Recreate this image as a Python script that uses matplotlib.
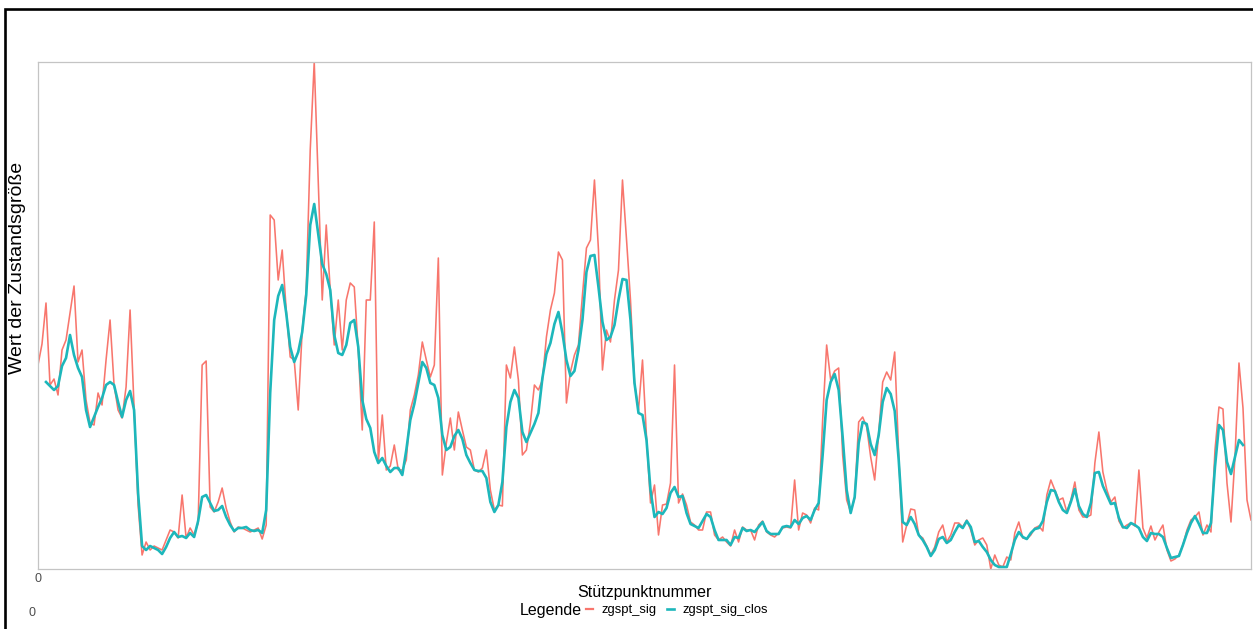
import numpy as np
import matplotlib
matplotlib.use("Agg")
import matplotlib.pyplot as plt
from matplotlib.patches import Rectangle
from matplotlib.lines import Line2D

plt.rcParams['font.family'] = ['Liberation Sans', 'DejaVu Sans']

# ---------- DATA --------------
nan = np.nan

zgspt_sig = [
    40.8, 45.0, 53.2, 36.8, 38.0, 34.8, 43.8, 45.8, 51.2, 56.6,
    41.4, 43.8, 33.8, 29.2, 28.8, 35.2, 32.8, 41.8, 49.8, 36.8,
    31.8, 30.2, 36.4, 51.8, 32.4, 12.8, 2.8, 5.4, 3.8, 4.6,
    4.2, 3.8, 5.8, 7.8, 7.4, 6.2, 14.8, 6.2, 8.2, 6.8,
    9.2, 40.8, 41.6, 12.4, 11.4, 13.4, 16.2, 12.2, 9.4, 7.4,
    8.4, 8.2, 7.8, 7.4, 7.8, 8.2, 6.0, 8.8, 70.8, 69.8,
    57.8, 63.8, 51.8, 42.4, 41.8, 31.8, 47.8, 55.8, 83.8, 101.4,
    77.8, 53.8, 68.8, 55.8, 44.8, 53.8, 43.8, 53.8, 57.2, 56.4,
    43.8, 27.8, 53.8, 53.8, 69.4, 21.4, 30.8, 19.8, 20.6, 24.8,
    19.8, 19.8, 21.8, 31.8, 34.8, 38.8, 45.4, 41.8, 38.4, 40.8,
    62.2, 18.8, 25.2, 30.2, 23.8, 31.4, 27.8, 24.4, 23.8, 19.8,
    19.4, 20.2, 23.8, 15.8, 11.8, 12.8, 12.6, 40.8, 38.2, 44.4,
    37.8, 22.8, 23.8, 29.2, 36.8, 35.8, 37.8, 46.4, 51.8, 55.2,
    63.4, 61.8, 33.2, 39.4, 42.8, 44.8, 54.8, 64.2, 65.8, 77.8,
    63.8, 39.8, 47.8, 45.4, 53.8, 59.8, 77.8, 66.0, 53.8, 37.2,
    31.8, 41.8, 26.4, 13.2, 16.8, 6.8, 12.8, 13.0, 17.2, 40.8,
    13.2, 15.0, 12.8, 9.4, 8.8, 7.8, 7.8, 11.4, 11.4, 6.8,
    5.8, 6.4, 5.4, 4.6, 7.8, 5.4, 8.4, 7.8, 7.8, 5.8,
    8.8, 9.6, 7.4, 6.8, 6.4, 7.2, 8.2, 8.4, 8.2, 17.8,
    7.8, 11.2, 10.8, 9.2, 12.2, 11.8, 29.8, 44.8, 37.8, 39.6,
    40.2, 22.8, 13.8, 11.4, 14.2, 29.4, 30.4, 28.4, 22.4, 17.8,
    27.2, 37.4, 39.4, 37.8, 43.4, 22.8, 5.4, 8.8, 12.0, 11.8,
    6.8, 6.2, 4.6, 2.8, 4.4, 7.4, 8.8, 5.4, 6.8, 9.2,
    9.2, 8.4, 9.8, 7.8, 4.8, 5.8, 6.2, 4.8, 0.0, 2.8,
    0.8, 0.4, 2.4, 1.8, 7.2, 9.4, 6.2, 6.0, 6.8, 8.2,
    8.6, 7.6, 14.8, 17.8, 15.8, 13.8, 14.2, 11.4, 13.8, 17.4,
    11.8, 10.4, 10.4, 10.8, 21.2, 27.4, 19.4, 15.8, 13.4, 14.4,
    9.6, 8.2, 8.8, 9.2, 8.6, 19.8, 8.2, 6.2, 8.6, 5.8,
    7.4, 8.8, 3.8, 1.6, 2.0, 2.8, 4.8, 7.8, 9.8, 10.4,
    11.4, 6.8, 8.8, 7.4, 23.8, 32.4, 32.0, 17.2, 9.4, 22.4,
    41.2, 32.2, 13.8, 9.8,
]

zgspt_sig_clos = [
    nan, nan, 37.4, 36.6, 35.8, 36.6, 40.6, 42.2, 46.8, 42.8,
    40.2, 38.4, 31.8, 28.4, 30.4, 32.4, 34.2, 36.8, 37.4, 36.8,
    33.4, 30.4, 33.8, 35.6, 31.8, 15.2, 4.6, 3.8, 4.6, 4.2,
    3.8, 3.0, 4.4, 6.2, 7.4, 6.4, 6.6, 6.2, 7.2, 6.4,
    9.6, 14.4, 14.8, 13.2, 11.6, 11.8, 12.6, 10.4, 8.8, 7.6,
    8.2, 8.2, 8.4, 7.8, 7.6, 7.8, 7.2, 11.8, 35.2, 49.8,
    54.6, 56.8, 51.2, 44.4, 41.4, 43.4, 47.4, 54.8, 68.8, 73.0,
    67.0, 61.0, 59.0, 55.8, 46.8, 43.2, 42.8, 44.8, 49.2, 49.8,
    44.4, 33.8, 30.0, 28.2, 23.4, 21.2, 22.2, 20.6, 19.4, 20.2,
    20.2, 18.8, 23.8, 29.8, 33.0, 37.2, 41.4, 40.2, 37.2, 36.8,
    34.2, 26.8, 23.8, 24.4, 26.6, 27.8, 26.0, 22.8, 21.2, 19.8,
    19.6, 19.6, 18.2, 13.4, 11.4, 12.8, 17.4, 28.4, 33.4, 35.8,
    34.2, 27.4, 25.4, 27.2, 29.0, 31.2, 38.2, 43.0, 45.2, 49.0,
    51.4, 47.2, 41.8, 38.6, 39.6, 43.8, 49.8, 59.4, 62.6, 62.8,
    56.4, 49.4, 45.8, 46.4, 48.8, 53.8, 58.0, 57.8, 49.8, 37.2,
    31.2, 30.8, 25.8, 15.8, 10.4, 11.4, 11.0, 12.2, 15.2, 16.4,
    14.4, 14.6, 11.2, 9.0, 8.6, 8.2, 9.6, 11.0, 10.4, 7.8,
    5.8, 5.8, 5.8, 4.8, 6.4, 6.2, 8.2, 7.6, 7.8, 7.4,
    8.4, 9.4, 7.6, 7.0, 7.0, 7.0, 8.4, 8.6, 8.4, 9.8,
    9.0, 10.2, 10.6, 9.8, 11.8, 13.2, 22.8, 33.8, 37.4, 39.0,
    35.8, 26.4, 15.8, 11.2, 14.4, 25.2, 29.4, 29.0, 25.0, 22.8,
    26.8, 33.4, 36.2, 35.0, 31.6, 21.8, 9.4, 8.8, 10.4, 9.0,
    6.8, 5.8, 4.4, 2.6, 3.8, 6.0, 6.4, 5.2, 5.8, 7.4,
    8.8, 8.2, 9.6, 8.4, 5.4, 5.6, 4.4, 3.4, 1.8, 0.8,
    0.4, 0.4, 0.4, 3.0, 5.8, 7.4, 6.4, 6.0, 7.2, 8.0,
    8.2, 9.6, 13.4, 15.8, 15.6, 13.4, 11.8, 11.2, 13.4, 16.0,
    12.6, 11.0, 10.4, 13.2, 19.2, 19.4, 16.6, 14.8, 13.0, 13.2,
    10.2, 8.4, 8.2, 9.2, 8.8, 8.2, 6.4, 5.6, 7.2, 7.0,
    7.0, 6.4, 4.2, 2.2, 2.4, 2.6, 4.8, 7.2, 9.2, 10.6,
    9.0, 7.2, 7.2, 9.2, 20.4, 28.8, 27.8, 21.4, 19.0, 22.4,
    25.8, 24.8, nan, nan,
]

series_labels = ["zgspt_sig", "zgspt_sig_clos"]
# ------------------------------

# ---------- STYLE -------------
col_sig = "#F8766D"
col_clos = "#1DB7BB"
W, H = 1253, 629
# ------------------------------

stuetzpunkt = np.arange(len(zgspt_sig))

fig = plt.figure(figsize=(W / 100, H / 100), dpi=100)
fig.patch.set_facecolor("white")

# plot panel
ax = fig.add_axes([38 / W, 1 - 569 / H, (1251 - 38) / W, (569 - 62) / H])
ax.plot(stuetzpunkt, zgspt_sig, color=col_sig, lw=1.15, solid_joinstyle="round")
ax.plot(stuetzpunkt, zgspt_sig_clos, color=col_clos, lw=1.9, solid_joinstyle="round")
ax.margins(x=0, y=0)

for sp in ax.spines.values():
    sp.set_color("#c4c4c4")
    sp.set_linewidth(0.9)

ax.set_xticks([0])
ax.set_xticklabels(["0"])
ax.set_yticks([])
ax.tick_params(axis="x", length=0, pad=3, labelsize=9, labelcolor="#4d4d4d")

# axis titles
fig.text(644.5 / W, 1 - 592 / H, "Stützpunktnummer", ha="center", va="center",
         fontsize=11.5, color="black")
fig.text(18 / W, 1 - 268 / H, "Wert der Zustandsgröße", ha="center", va="center",
         rotation=90, fontsize=14, color="black")

# legend
fig.text(551 / W, 1 - 610 / H, "Legende", ha="center", va="center",
         fontsize=11.5, color="black")
handles = [Line2D([], [], color=col_sig, lw=1.6),
           Line2D([], [], color=col_clos, lw=1.9)]
fig.legend(handles, series_labels, loc="center left",
           bbox_to_anchor=(586 / W, 1 - 610 / H), ncol=2, frameon=False,
           fontsize=9.4, handlelength=0.5, handletextpad=0.7,
           columnspacing=0.8, borderpad=0, borderaxespad=0)

fig.text(32 / W, 1 - 613 / H, "0", ha="center", va="center",
         fontsize=9, color="#4d4d4d")

# outer frame
fig.patches.append(Rectangle((5 / W, -0.2), 1.2, 1.2 + (1 - 9 / H) - 1.0 + 0.0,
                             transform=fig.transFigure, fill=False,
                             edgecolor="black", linewidth=1.9, clip_on=False))

fig.savefig("out.png", dpi=100)
